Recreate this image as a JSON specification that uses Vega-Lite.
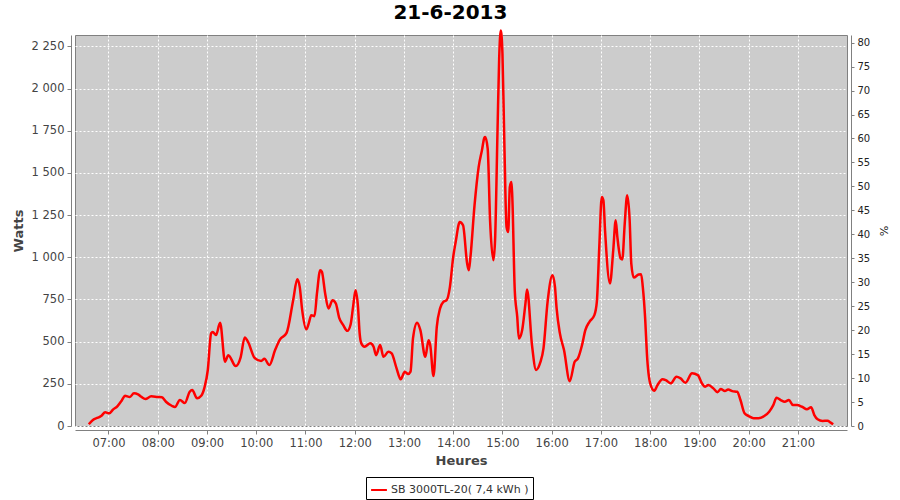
{
  "$schema": "https://vega.github.io/schema/vega-lite/v6.json",
  "autosize": {"type": "none"},
  "padding": {"left": 75, "top": 35, "right": 53, "bottom": 74},
  "width": 772,
  "height": 391,
  "background": "white",
  "title": {"text": "21-6-2013", "font": "DejaVu Sans", "fontSize": 20, "fontWeight": "bold", "color": "#000000", "anchor": "middle", "frame": "bounds", "offset": 2},
  "config": {
    "locale": {"number": {"decimal": ",", "thousands": " ", "grouping": [3], "currency": ["", " €"]}},
    "view": {"fill": "#cccccc", "stroke": "#808080", "strokeWidth": 1},
    "axis": {"labelFont": "DejaVu Sans", "titleFont": "DejaVu Sans", "domainColor": "#808080", "tickColor": "#808080", "gridColor": "#ffffff", "gridDash": [2, 2], "gridWidth": 1, "gridOpacity": 1}
  },
  "data": {
    "values": [
      {"t": "2013-06-21T06:36:00", "w": 10}, {"t": "2013-06-21T06:41:00", "w": 36}, {"t": "2013-06-21T06:47:00", "w": 49}, {"t": "2013-06-21T06:51:00", "w": 59}, {"t": "2013-06-21T06:56:00", "w": 81},
      {"t": "2013-06-21T07:01:00", "w": 75}, {"t": "2013-06-21T07:05:00", "w": 95}, {"t": "2013-06-21T07:11:00", "w": 118}, {"t": "2013-06-21T07:16:00", "w": 150}, {"t": "2013-06-21T07:20:00", "w": 179},
      {"t": "2013-06-21T07:26:00", "w": 172}, {"t": "2013-06-21T07:31:00", "w": 194}, {"t": "2013-06-21T07:36:00", "w": 188}, {"t": "2013-06-21T07:40:00", "w": 173}, {"t": "2013-06-21T07:45:00", "w": 160},
      {"t": "2013-06-21T07:52:00", "w": 176}, {"t": "2013-06-21T08:00:00", "w": 172}, {"t": "2013-06-21T08:05:00", "w": 170}, {"t": "2013-06-21T08:10:00", "w": 144}, {"t": "2013-06-21T08:17:00", "w": 120},
      {"t": "2013-06-21T08:21:00", "w": 112}, {"t": "2013-06-21T08:27:00", "w": 154}, {"t": "2013-06-21T08:33:00", "w": 136}, {"t": "2013-06-21T08:39:00", "w": 203}, {"t": "2013-06-21T08:42:00", "w": 213},
      {"t": "2013-06-21T08:48:00", "w": 164}, {"t": "2013-06-21T08:53:00", "w": 179}, {"t": "2013-06-21T08:57:00", "w": 229}, {"t": "2013-06-21T09:01:00", "w": 332}, {"t": "2013-06-21T09:05:00", "w": 549},
      {"t": "2013-06-21T09:07:00", "w": 558}, {"t": "2013-06-21T09:11:00", "w": 539}, {"t": "2013-06-21T09:16:00", "w": 612}, {"t": "2013-06-21T09:22:00", "w": 381}, {"t": "2013-06-21T09:26:00", "w": 420},
      {"t": "2013-06-21T09:35:00", "w": 355}, {"t": "2013-06-21T09:41:00", "w": 407}, {"t": "2013-06-21T09:46:00", "w": 525}, {"t": "2013-06-21T09:50:00", "w": 499}, {"t": "2013-06-21T09:58:00", "w": 404},
      {"t": "2013-06-21T10:06:00", "w": 385}, {"t": "2013-06-21T10:10:00", "w": 398}, {"t": "2013-06-21T10:16:00", "w": 361}, {"t": "2013-06-21T10:23:00", "w": 450}, {"t": "2013-06-21T10:29:00", "w": 513},
      {"t": "2013-06-21T10:37:00", "w": 552}, {"t": "2013-06-21T10:45:00", "w": 746}, {"t": "2013-06-21T10:50:00", "w": 870}, {"t": "2013-06-21T10:53:00", "w": 825}, {"t": "2013-06-21T10:56:00", "w": 687},
      {"t": "2013-06-21T11:01:00", "w": 573}, {"t": "2013-06-21T11:04:00", "w": 608}, {"t": "2013-06-21T11:07:00", "w": 657}, {"t": "2013-06-21T11:11:00", "w": 651}, {"t": "2013-06-21T11:14:00", "w": 786},
      {"t": "2013-06-21T11:18:00", "w": 924}, {"t": "2013-06-21T11:20:00", "w": 914}, {"t": "2013-06-21T11:24:00", "w": 786}, {"t": "2013-06-21T11:28:00", "w": 697}, {"t": "2013-06-21T11:33:00", "w": 746},
      {"t": "2013-06-21T11:37:00", "w": 726}, {"t": "2013-06-21T11:41:00", "w": 643}, {"t": "2013-06-21T11:46:00", "w": 598}, {"t": "2013-06-21T11:51:00", "w": 564}, {"t": "2013-06-21T11:55:00", "w": 602},
      {"t": "2013-06-21T11:58:00", "w": 706}, {"t": "2013-06-21T12:01:00", "w": 805}, {"t": "2013-06-21T12:04:00", "w": 706}, {"t": "2013-06-21T12:06:00", "w": 549}, {"t": "2013-06-21T12:08:00", "w": 490},
      {"t": "2013-06-21T12:12:00", "w": 470}, {"t": "2013-06-21T12:19:00", "w": 490}, {"t": "2013-06-21T12:23:00", "w": 470}, {"t": "2013-06-21T12:26:00", "w": 420}, {"t": "2013-06-21T12:31:00", "w": 480},
      {"t": "2013-06-21T12:35:00", "w": 410}, {"t": "2013-06-21T12:41:00", "w": 440}, {"t": "2013-06-21T12:45:00", "w": 430}, {"t": "2013-06-21T12:51:00", "w": 342}, {"t": "2013-06-21T12:56:00", "w": 277},
      {"t": "2013-06-21T13:01:00", "w": 322}, {"t": "2013-06-21T13:05:00", "w": 308}, {"t": "2013-06-21T13:08:00", "w": 322}, {"t": "2013-06-21T13:11:00", "w": 519}, {"t": "2013-06-21T13:16:00", "w": 612},
      {"t": "2013-06-21T13:20:00", "w": 568}, {"t": "2013-06-21T13:26:00", "w": 410}, {"t": "2013-06-21T13:30:00", "w": 509}, {"t": "2013-06-21T13:32:00", "w": 480}, {"t": "2013-06-21T13:36:00", "w": 296},
      {"t": "2013-06-21T13:40:00", "w": 588}, {"t": "2013-06-21T13:44:00", "w": 697}, {"t": "2013-06-21T13:48:00", "w": 736}, {"t": "2013-06-21T13:52:00", "w": 746}, {"t": "2013-06-21T13:56:00", "w": 825},
      {"t": "2013-06-21T14:00:00", "w": 1002}, {"t": "2013-06-21T14:03:00", "w": 1091}, {"t": "2013-06-21T14:08:00", "w": 1210}, {"t": "2013-06-21T14:12:00", "w": 1190}, {"t": "2013-06-21T14:17:00", "w": 963},
      {"t": "2013-06-21T14:19:00", "w": 924}, {"t": "2013-06-21T14:21:00", "w": 1002}, {"t": "2013-06-21T14:26:00", "w": 1309}, {"t": "2013-06-21T14:31:00", "w": 1535}, {"t": "2013-06-21T14:35:00", "w": 1634},
      {"t": "2013-06-21T14:38:00", "w": 1709}, {"t": "2013-06-21T14:39:00", "w": 1713}, {"t": "2013-06-21T14:42:00", "w": 1644}, {"t": "2013-06-21T14:45:00", "w": 1210}, {"t": "2013-06-21T14:49:00", "w": 983},
      {"t": "2013-06-21T14:51:00", "w": 1101}, {"t": "2013-06-21T14:54:00", "w": 1753}, {"t": "2013-06-21T14:56:00", "w": 2177}, {"t": "2013-06-21T14:58:00", "w": 2345}, {"t": "2013-06-21T15:00:00", "w": 2207},
      {"t": "2013-06-21T15:02:00", "w": 1753}, {"t": "2013-06-21T15:05:00", "w": 1180}, {"t": "2013-06-21T15:07:00", "w": 1150}, {"t": "2013-06-21T15:09:00", "w": 1417}, {"t": "2013-06-21T15:11:00", "w": 1446},
      {"t": "2013-06-21T15:12:00", "w": 1358}, {"t": "2013-06-21T15:15:00", "w": 805}, {"t": "2013-06-21T15:18:00", "w": 648}, {"t": "2013-06-21T15:20:00", "w": 519}, {"t": "2013-06-21T15:24:00", "w": 568},
      {"t": "2013-06-21T15:28:00", "w": 726}, {"t": "2013-06-21T15:30:00", "w": 809}, {"t": "2013-06-21T15:36:00", "w": 480}, {"t": "2013-06-21T15:41:00", "w": 332}, {"t": "2013-06-21T15:46:00", "w": 375},
      {"t": "2013-06-21T15:50:00", "w": 460}, {"t": "2013-06-21T15:55:00", "w": 736}, {"t": "2013-06-21T16:01:00", "w": 894}, {"t": "2013-06-21T16:04:00", "w": 825}, {"t": "2013-06-21T16:06:00", "w": 697},
      {"t": "2013-06-21T16:10:00", "w": 549}, {"t": "2013-06-21T16:15:00", "w": 450}, {"t": "2013-06-21T16:22:00", "w": 266}, {"t": "2013-06-21T16:28:00", "w": 381}, {"t": "2013-06-21T16:32:00", "w": 401},
      {"t": "2013-06-21T16:37:00", "w": 480}, {"t": "2013-06-21T16:41:00", "w": 568}, {"t": "2013-06-21T16:46:00", "w": 618}, {"t": "2013-06-21T16:52:00", "w": 657}, {"t": "2013-06-21T16:55:00", "w": 736},
      {"t": "2013-06-21T16:58:00", "w": 1062}, {"t": "2013-06-21T17:01:00", "w": 1358}, {"t": "2013-06-21T17:03:00", "w": 1338}, {"t": "2013-06-21T17:05:00", "w": 1160}, {"t": "2013-06-21T17:11:00", "w": 845},
      {"t": "2013-06-21T17:15:00", "w": 1042}, {"t": "2013-06-21T17:18:00", "w": 1220}, {"t": "2013-06-21T17:20:00", "w": 1121}, {"t": "2013-06-21T17:24:00", "w": 993}, {"t": "2013-06-21T17:26:00", "w": 987},
      {"t": "2013-06-21T17:29:00", "w": 1200}, {"t": "2013-06-21T17:32:00", "w": 1368}, {"t": "2013-06-21T17:35:00", "w": 1220}, {"t": "2013-06-21T17:37:00", "w": 963}, {"t": "2013-06-21T17:40:00", "w": 880},
      {"t": "2013-06-21T17:46:00", "w": 898}, {"t": "2013-06-21T17:49:00", "w": 900}, {"t": "2013-06-21T17:51:00", "w": 825}, {"t": "2013-06-21T17:54:00", "w": 628}, {"t": "2013-06-21T17:56:00", "w": 430},
      {"t": "2013-06-21T18:00:00", "w": 253}, {"t": "2013-06-21T18:05:00", "w": 209}, {"t": "2013-06-21T18:09:00", "w": 243}, {"t": "2013-06-21T18:15:00", "w": 277}, {"t": "2013-06-21T18:19:00", "w": 272},
      {"t": "2013-06-21T18:25:00", "w": 253}, {"t": "2013-06-21T18:32:00", "w": 292}, {"t": "2013-06-21T18:37:00", "w": 282}, {"t": "2013-06-21T18:43:00", "w": 256}, {"t": "2013-06-21T18:51:00", "w": 312},
      {"t": "2013-06-21T18:58:00", "w": 302}, {"t": "2013-06-21T19:03:00", "w": 253}, {"t": "2013-06-21T19:07:00", "w": 233}, {"t": "2013-06-21T19:11:00", "w": 243}, {"t": "2013-06-21T19:17:00", "w": 223},
      {"t": "2013-06-21T19:22:00", "w": 200}, {"t": "2013-06-21T19:26:00", "w": 219}, {"t": "2013-06-21T19:31:00", "w": 207}, {"t": "2013-06-21T19:35:00", "w": 217}, {"t": "2013-06-21T19:40:00", "w": 207},
      {"t": "2013-06-21T19:46:00", "w": 203}, {"t": "2013-06-21T19:50:00", "w": 154}, {"t": "2013-06-21T19:55:00", "w": 75}, {"t": "2013-06-21T20:00:00", "w": 59}, {"t": "2013-06-21T20:06:00", "w": 46},
      {"t": "2013-06-21T20:12:00", "w": 46}, {"t": "2013-06-21T20:19:00", "w": 59}, {"t": "2013-06-21T20:25:00", "w": 85}, {"t": "2013-06-21T20:30:00", "w": 124}, {"t": "2013-06-21T20:34:00", "w": 168},
      {"t": "2013-06-21T20:39:00", "w": 154}, {"t": "2013-06-21T20:44:00", "w": 144}, {"t": "2013-06-21T20:49:00", "w": 154}, {"t": "2013-06-21T20:54:00", "w": 124}, {"t": "2013-06-21T20:59:00", "w": 124},
      {"t": "2013-06-21T21:05:00", "w": 114}, {"t": "2013-06-21T21:11:00", "w": 99}, {"t": "2013-06-21T21:16:00", "w": 111}, {"t": "2013-06-21T21:20:00", "w": 65}, {"t": "2013-06-21T21:24:00", "w": 40},
      {"t": "2013-06-21T21:30:00", "w": 30}, {"t": "2013-06-21T21:36:00", "w": 31}, {"t": "2013-06-21T21:40:00", "w": 20}, {"t": "2013-06-21T21:43:00", "w": 10}
    ]
  },
  "layer": [
    {
      "mark": {"type": "line", "stroke": "#ff0000", "strokeWidth": 2.5, "interpolate": "monotone"},
      "encoding": {
        "x": {
          "field": "t", "type": "temporal",
          "scale": {"nice": false, "padding": 13.8},
          "axis": {"title": "Heures", "format": "%H:%M", "tickCount": 15, "offset": 4, "tickSize": 4, "labelFontSize": 11.5, "labelColor": "#444444", "labelPadding": 3, "titleFontSize": 13, "titleFontWeight": "bold", "titleColor": "#444444", "titlePadding": 6, "grid": true}
        },
        "y": {
          "field": "w", "type": "quantitative",
          "scale": {"domain": [0, 2318], "nice": false},
          "axis": {"title": "Watts", "format": ",d", "values": [0, 250, 500, 750, 1000, 1250, 1500, 1750, 2000, 2250], "offset": 4, "tickSize": 4, "labelFontSize": 11.5, "labelColor": "#444444", "labelPadding": 3, "titleFontSize": 13, "titleFontWeight": "bold", "titleColor": "#444444", "titlePadding": 6, "grid": true}
        },
        "color": {
          "datum": "SB 3000TL-20( 7,4 kWh )",
          "scale": {"range": ["#ff0000"]},
          "legend": {"title": null, "orient": "none", "legendX": 291, "legendY": 442, "symbolType": "stroke", "symbolStrokeWidth": 2, "symbolSize": 250, "labelFont": "DejaVu Sans", "labelFontSize": 11, "labelColor": "#333333", "strokeColor": "#000000", "fillColor": "#ffffff", "padding": 4, "labelOffset": 3}
        }
      }
    },
    {
      "mark": {"type": "rule", "opacity": 0},
      "encoding": {
        "y": {
          "datum": 0, "type": "quantitative",
          "scale": {"domain": [0, 81.6], "nice": false},
          "axis": {"orient": "right", "title": "%", "values": [0, 5, 10, 15, 20, 25, 30, 35, 40, 45, 50, 55, 60, 65, 70, 75, 80], "offset": 4, "tickSize": 3, "labelFontSize": 10, "labelColor": "#222222", "labelPadding": 3, "titleFontSize": 11, "titleFontWeight": "normal", "titleColor": "#222222", "titlePadding": 8, "grid": false}
        }
      }
    }
  ],
  "resolve": {"scale": {"y": "independent"}, "axis": {"y": "independent"}}
}
